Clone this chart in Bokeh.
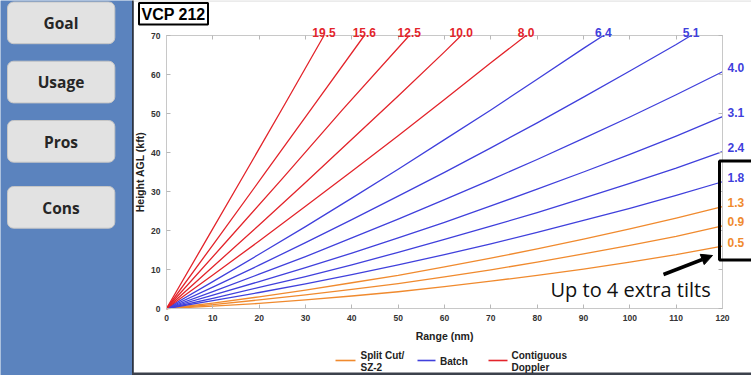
from bokeh.plotting import figure
from bokeh.models import (Range1d, FixedTicker, LinearAxis, BoxAnnotation, Label,
                          Arrow, NormalHead)
from bokeh.embed import file_html
from bokeh.resources import INLINE

# ---------------- data ----------------
x_ticks = [0, 10, 20, 30, 40, 50, 60, 70, 80, 90, 100, 110, 120]
y_ticks = [0, 10, 20, 30, 40, 50, 60, 70]
x_min, x_max = 0, 120
y_min, y_max = 0, 70

full_range = [0, 10, 20, 30, 40, 50, 60, 70, 80, 90, 100, 110, 120]

# Split Cut / SZ-2 tilts
split_angles = [0.5, 0.9, 1.3]
split_ranges = [full_range, full_range, full_range]
split_heights = [
    [0, 0.6, 1.3, 2.2, 3.2, 4.3, 5.6, 7.0, 8.5, 10.1, 11.9, 13.8, 16.0],
    [0, 1.0, 2.2, 3.5, 4.9, 6.4, 8.1, 9.9, 11.9, 14.0, 16.2, 18.5, 21.2],
    [0, 1.4, 3.0, 4.7, 6.6, 8.5, 10.7, 12.9, 15.3, 17.8, 20.4, 23.2, 26.1],
]

# Batch tilts
batch_angles = [1.8, 2.4, 3.1, 4.0, 5.1, 6.4]
batch_ranges = [
    full_range,
    full_range,
    full_range,
    full_range,
    [0, 10, 20, 30, 40, 50, 60, 70, 80, 90, 100, 110, 113.2],
    [0, 10, 20, 30, 40, 50, 60, 70, 80, 90, 94.3],
]
batch_heights = [
    [0, 2.0, 4.1, 6.3, 8.7, 11.2, 13.8, 16.6, 19.5, 22.6, 25.7, 29.0, 32.5],
    [0, 2.6, 5.4, 8.2, 11.2, 14.4, 17.7, 21.1, 24.6, 28.3, 32.1, 36.0, 40.2],
    [0, 3.4, 6.9, 10.5, 14.2, 18.1, 22.1, 26.3, 30.6, 35.0, 39.5, 44.2, 49.2],
    [0, 4.3, 8.8, 13.3, 18.1, 22.9, 27.9, 33.0, 38.2, 43.6, 49.1, 54.8, 60.7],
    [0, 5.5, 11.1, 16.9, 22.8, 28.8, 34.9, 41.2, 47.6, 54.2, 60.9, 67.7, 70.0],
    [0, 6.9, 13.9, 21.0, 28.3, 35.7, 43.3, 50.9, 58.8, 66.7, 70.0],
]

# Contiguous Doppler tilts
cd_angles = [8.0, 10.0, 12.5, 15.6, 19.5]
cd_ranges = [
    [0, 10, 20, 30, 40, 50, 60, 70, 77.6],
    [0, 10, 20, 30, 40, 50, 60, 63.6],
    [0, 12.5, 25, 38, 52.4],
    [0, 10.5, 21, 32, 42.7],
    [0, 8.5, 17, 25.5, 34.0],
]
cd_heights = [
    [0, 8.6, 17.3, 26.2, 35.2, 44.3, 53.6, 63.0, 70.0],
    [0, 10.7, 21.4, 32.3, 43.4, 54.5, 65.8, 70.0],
    [0, 16.6, 33.3, 51.0, 70.0],
    [0, 17.1, 34.3, 52.4, 70.0],
    [0, 17.4, 34.8, 52.3, 70.0],
]

legend_names = [["Split Cut/", "SZ-2"], ["Batch"], ["Contiguous", "Doppler"]]
buttons = ["Goal", "Usage", "Pros", "Cons"]

# ---------------- styling / layout ----------------
ORANGE = "#f08a2e"
BLUE = "#4040dc"
RED = "#e3242b"
W, H = 751, 375
PL, PR = 166.0, 722.0      # plot area left/right (figure px)
PT, PB = 35.0, 308.0       # plot area top/bottom (figure px)
KX = (x_max - x_min) / (PR - PL)
KY = (y_max - y_min) / (PB - PT)


def dx(px):
    return x_min + (px - PL) * KX


def dy(py):
    return y_min + (PB - py) * KY


p = figure(width=W, height=H, output_backend="svg", toolbar_location=None,
           x_range=Range1d(x_min - PL * KX, x_min + (W - PL) * KX),
           y_range=Range1d(y_min - (H - PB) * KY, y_min + PB * KY),
           min_border=0, title=None, tools="")
p.grid.visible = False
p.outline_line_color = None
p.background_fill_color = "white"
p.border_fill_color = "white"

FONT = "Liberation Sans"
AXC = "#c8c8c8"
xa, ya = p.xaxis[0], p.yaxis[0]
xa.fixed_location = y_min
xa.bounds = (x_min, x_max)
ya.fixed_location = x_min
ya.bounds = (y_min, y_max)
for ax, ticks in ((xa, x_ticks), (ya, y_ticks)):
    ax.ticker = FixedTicker(ticks=ticks)
    ax.major_tick_in = 4
    ax.major_tick_out = 0
    ax.minor_tick_line_color = None
    ax.axis_line_color = AXC
    ax.major_tick_line_color = "#b8b8b8"
    ax.major_label_text_font = FONT
    ax.major_label_text_font_style = "bold"
    ax.major_label_text_font_size = "8.5px"
    ax.major_label_text_color = "#333333"
    ax.major_label_standoff = 6
    ax.axis_label_text_font = FONT
    ax.axis_label_text_font_style = "bold"
    ax.axis_label_text_font_size = "10.5px"
    ax.axis_label_text_color = "#222222"
xa.axis_label = "Range (nm)"
ya.axis_label = "Height AGL (kft)"
xa.axis_label_standoff = 6
ya.axis_label_standoff = 2

for loc, ticks, fl, bd in (("above", x_ticks, y_max, (x_min, x_max)),
                           ("right", y_ticks, x_max, (y_min, y_max))):
    ax = LinearAxis(ticker=FixedTicker(ticks=ticks), fixed_location=fl, bounds=bd)
    ax.major_tick_in = 4
    ax.major_tick_out = 0
    ax.minor_tick_line_color = None
    ax.axis_line_color = AXC
    ax.major_tick_line_color = "#b8b8b8"
    ax.major_label_text_color = None
    ax.major_label_text_font_size = "6px"
    p.add_layout(ax, loc)


def box(l, r, t, b, fill=None, line=None, lw=1, radius=0, level="annotation"):
    return BoxAnnotation(left=dx(l), right=dx(r), top=dy(t), bottom=dy(b),
                         fill_color=fill, fill_alpha=1, line_color=line, line_alpha=1,
                         line_width=lw, border_radius=radius, level=level)


# ---------------- decorations: left panel ----------------
p.add_layout(box(-30, 131.5, -30, 420, fill="#5b83be", level="underlay"))
p.add_layout(box(131.5, 133.3, -30, 420, fill="#2c3442", level="underlay"))
p.add_layout(box(131.5, 780, 372, 420, fill="#3c414c", level="underlay"))
p.add_layout(box(133.3, 780, -30, 1.2, fill="#e4e4e4", level="underlay"))

btn_tops = [1.5, 60.7, 120.0, 186.0]
for name, top in zip(buttons, btn_tops):
    p.add_layout(box(7, 114.3, top, top + 41.7, fill="#e2e2e2", line="#c6c6c6", lw=1, radius=6))
    p.add_layout(Label(x=dx(60.5), y=dy(top + 21), text=name, text_align="center",
                       text_baseline="middle", text_font="Open Sans", text_font_style="bold",
                       text_font_size="15.5px", text_color="#262626"))

# title box
p.add_layout(box(138.5, 207.5, 2.5, 24, fill="white", line="black", lw=2))
p.add_layout(Label(x=dx(173), y=dy(13.5), text="VCP 212", text_align="center",
                   text_baseline="middle", text_font=FONT, text_font_style="bold",
                   text_font_size="16px", text_color="black"))

# ---------------- lines ----------------
groups = [(split_angles, split_ranges, split_heights, ORANGE),
          (batch_angles, batch_ranges, batch_heights, BLUE),
          (cd_angles, cd_ranges, cd_heights, RED)]
for angles, rr, hh, col in groups:
    for ang, r, h in zip(angles, rr, hh):
        p.line(r, h, line_color=col, line_width=1.3, line_join="round")
        txt = f"{ang:.1f}"
        if h[-1] >= y_max:
            p.add_layout(Label(x=r[-1], y=dy(31.5), text=txt, text_align="center",
                               text_baseline="alphabetic", text_font=FONT,
                               text_font_style="bold", text_font_size="12px",
                               text_color=col))
        else:
            p.add_layout(Label(x=dx(727), y=h[-1], y_offset=4, text=txt, text_align="left",
                               text_baseline="middle", text_font=FONT,
                               text_font_style="bold", text_font_size="12px",
                               text_color=col))

# ---------------- legend ----------------
leg_cols = [ORANGE, BLUE, RED]
leg_line_x = [(335, 355), (417, 435), (488, 507)]
leg_text_x = [360, 439.5, 511]
for names, col, (x0, x1), tx in zip(legend_names, leg_cols, leg_line_x, leg_text_x):
    p.add_layout(Arrow(end=None, x_start=dx(x0), y_start=dy(360), x_end=dx(x1), y_end=dy(360),
                       line_color=col, line_width=1.6))
    ys = [360.5] if len(names) == 1 else [355, 367.3]
    for nm, yy in zip(names, ys):
        p.add_layout(Label(x=dx(tx), y=dy(yy), text=nm, text_align="left",
                           text_baseline="middle", text_font=FONT, text_font_style="bold",
                           text_font_size="10px", text_color="#222222"))

# ---------------- annotation ----------------
p.add_layout(box(719, 790, 160.5, 259.5, fill=None, line="black", lw=3))
p.add_layout(Arrow(end=NormalHead(size=11, fill_color="black", line_color="black"),
                   x_start=dx(663), y_start=dy(274), x_end=dx(712), y_end=dy(255),
                   line_color="black", line_width=3.5))
p.add_layout(Label(x=dx(550), y=dy(289), text="Up to 4 extra tilts", text_align="left",
                   text_baseline="middle", text_font="Open Sans", text_font_size="20px",
                   text_color="#111111"))

open("out.html", "w").write(file_html(p, INLINE))
